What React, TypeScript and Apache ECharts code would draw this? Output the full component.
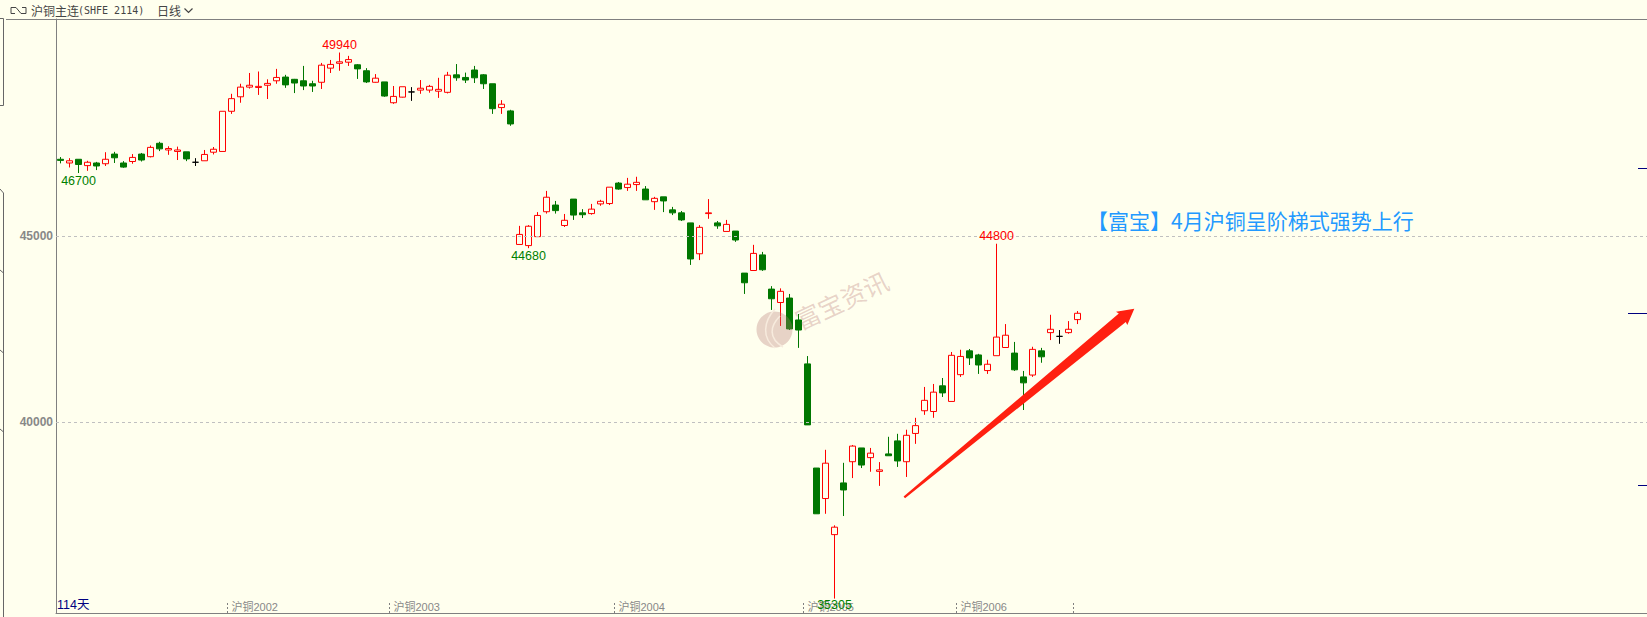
import React, { useEffect, useRef } from "react";
import * as echarts from "echarts";

const contractLabels: [number, string][] = [
  [19, "沪铜2002"],
  [37, "沪铜2003"],
  [62, "沪铜2004"],
  [83, "沪铜2005"],
  [100, "沪铜2006"],
];
const lastTickIndex = 113;
const priceTicks = [40000, 45000];
const highLabels: [number, number][] = [
  [31, 49940],
  [104, 44800],
];
const lowLabels: [number, number][] = [
  [2, 46700],
  [52, 44680],
  [86, 35305],
];
const title = "【富宝】4月沪铜呈阶梯式强势上行";
const dayCount = "114天";
const contractName = "沪铜主连";
const contractCode = "(SHFE 2114)";
const period = "日线";
const watermark = "富宝资讯";

// [open, close, low, high]
const candles: number[][] = [
  [47070, 47040, 46960, 47130], [46970, 47030, 46850, 47100], [47070, 46930, 46700, 47070], [46900, 46990, 46760, 47030],
  [46970, 46890, 46780, 47000], [46950, 47070, 46890, 47260], [47210, 47110, 46970, 47270], [46970, 46860, 46840, 47020],
  [47010, 47120, 46950, 47210], [47210, 47050, 47010, 47240], [47140, 47390, 47120, 47440], [47500, 47350, 47290, 47540],
  [47320, 47360, 47190, 47420], [47280, 47320, 47050, 47410], [47270, 47080, 47020, 47270], [46990, 46990, 46890, 47100],
  [47030, 47200, 47030, 47320], [47260, 47340, 47200, 47400], [47280, 48360, 47280, 48360], [48360, 48700, 48290, 48830],
  [48750, 49010, 48590, 49100], [49010, 49060, 48970, 49390], [49000, 49030, 48800, 49430], [49060, 49110, 48690, 49220],
  [49180, 49270, 49100, 49500], [49280, 49070, 48990, 49340], [49220, 49120, 48850, 49230], [49180, 49040, 48930, 49580],
  [49100, 49040, 48880, 49180], [49140, 49600, 48960, 49660], [49520, 49620, 49390, 49740], [49650, 49690, 49450, 49940],
  [49680, 49750, 49580, 49850], [49610, 49500, 49230, 49630], [49450, 49150, 49120, 49520], [49140, 49250, 49130, 49360],
  [49150, 48770, 48750, 49150], [48590, 48760, 48560, 49040], [48740, 49020, 48730, 49020], [48880, 48880, 48640, 49010],
  [48930, 48980, 48830, 49200], [48930, 49030, 48860, 49070], [48900, 48950, 48720, 49260], [48870, 49330, 48840, 49420],
  [49340, 49260, 49180, 49630], [49270, 49200, 49120, 49400], [49470, 49260, 49120, 49580], [49340, 49100, 48960, 49360],
  [49100, 48430, 48290, 49100], [48460, 48550, 48290, 48660], [48370, 48020, 47970, 48400], [44780, 45050, 44780, 45280],
  [44750, 45270, 44680, 45300], [44990, 45560, 44990, 45650], [45660, 46050, 45610, 46220], [45840, 45690, 45610, 45950],
  [45290, 45430, 45250, 45600], [46000, 45570, 45440, 46000], [45630, 45580, 45490, 45730], [45610, 45730, 45580, 45870],
  [45870, 45940, 45820, 45980], [45880, 46320, 45840, 46320], [46430, 46270, 46250, 46460], [46310, 46400, 46220, 46570],
  [46390, 46450, 46220, 46600], [46270, 45980, 45980, 46350], [45930, 46020, 45710, 46060], [46060, 45950, 45650, 46060],
  [45710, 45630, 45570, 45790], [45630, 45440, 45410, 45680], [45360, 44390, 44230, 45360], [44530, 45240, 44360, 45300],
  [45610, 45630, 45470, 46000], [45360, 45280, 45200, 45410], [45130, 45320, 45130, 45440], [45140, 44900, 44850, 45140],
  [44010, 43750, 43450, 44010], [44080, 44540, 44080, 44770], [44500, 44100, 44070, 44580], [43580, 43320, 43020, 43660],
  [43220, 43520, 42590, 43600], [43340, 42510, 42480, 43450], [42750, 42480, 42000, 42910], [41570, 39930, 39930, 41780],
  [38770, 37540, 37540, 38770], [37950, 38900, 37540, 39260], [36980, 37180, 35260, 37230], [38370, 38180, 37480, 38910],
  [38940, 39360, 38500, 39390], [39310, 38850, 38770, 39310], [39050, 39170, 38670, 39310], [38680, 38720, 38290, 38930],
  [39150, 39100, 39100, 39610], [39500, 38960, 38800, 39690], [38940, 39650, 38530, 39800], [39700, 39910, 39420, 40120],
  [40310, 40590, 40200, 40950], [40290, 40810, 40120, 41030], [40980, 40790, 40680, 41190], [40560, 41800, 40560, 41890],
  [41280, 41770, 41220, 41950], [41920, 41730, 41540, 41970], [41810, 41540, 41300, 41840], [41390, 41560, 41300, 41680],
  [41790, 42290, 41790, 44800], [42010, 42340, 42010, 42640], [41860, 41410, 41380, 42160], [41220, 41060, 40330, 41380],
  [41270, 41960, 41220, 42030], [41920, 41760, 41600, 42000], [42410, 42500, 42210, 42890], [42310, 42310, 42110, 42480],
  [42410, 42500, 42380, 42720], [42760, 42930, 42640, 42990],
];

const BG = "#FFFFEE";
const RED = "#FF0000";
const GREEN = "#007700";
const GRAY = "#808080";
const SANS = '"Liberation Sans", "Noto Sans CJK SC", sans-serif';
const CJK = '"Noto Sans CJK SC", sans-serif';
const SLOTS = 177;

const labelNames = new Map(contractLabels);
const categories = Array.from({ length: SLOTS }, (_, i) => labelNames.get(i) ?? "");
const tickSet = new Set<number>([...contractLabels.map((c) => c[0]), lastTickIndex]);

const pointLabel = (i: number, v: number, position: "top" | "bottom", color: string) => ({
  coord: [i, v],
  value: v,
  symbol: "circle",
  symbolSize: 0,
  itemStyle: { color: "transparent" },
  label: {
    show: true,
    position,
    distance: position === "bottom" ? 2 : 1,
    formatter: String(v),
    color,
    fontFamily: SANS,
    fontSize: 12.5,
  },
});

const line = (points: number[][], color = "#666666", lineWidth = 1) => ({
  type: "polyline",
  shape: { points },
  style: { stroke: color, lineWidth, fill: "none" },
  silent: true,
});

const text = (x: number, y: number, t: string, font: string, fontSize: number, fill: string, extra = {}) => ({
  type: "text",
  x,
  y,
  silent: true,
  style: { text: t, fontFamily: font, fontSize, fill, textVerticalAlign: "middle", ...extra },
});

const markColor = "rgba(183,120,118,0.33)";
const curve = (a: number[], c1: number[], c2: number[], b: number[]) => ({
  type: "bezierCurve",
  z: 101,
  silent: true,
  shape: { x1: a[0], y1: a[1], cpx1: c1[0], cpy1: c1[1], cpx2: c2[0], cpy2: c2[1], x2: b[0], y2: b[1] },
  style: { stroke: "#F7EBDD", lineWidth: 1.5, fill: "none" },
});

export default function App() {
  const ref = useRef<HTMLDivElement>(null);
  useEffect(() => {
    const chart = echarts.init(ref.current!, undefined, { renderer: "svg" });
    chart.setOption({
      animation: false,
      backgroundColor: BG,
      grid: {
        left: 56,
        top: 19,
        width: 9 * SLOTS,
        height: 594,
        containLabel: false,
        outerBoundsMode: "none",
      },
      xAxis: {
        type: "category",
        data: categories,
        boundaryGap: true,
        axisLine: { show: true, lineStyle: { color: GRAY, width: 1 } },
        axisTick: {
          show: true,
          inside: true,
          length: 11,
          alignWithLabel: false,
          interval: (i: number) => tickSet.has(i),
          lineStyle: { color: GRAY, type: [2, 2] },
        },
        axisLabel: {
          show: true,
          inside: true,
          interval: 0,
          align: "left",
          margin: 1,
          color: "#888888",
          fontFamily: SANS,
          fontSize: 11,
        },
        splitLine: { show: false },
      },
      yAxis: {
        type: "value",
        min: 34873,
        max: 50841,
        scale: true,
        axisLine: { show: true, onZero: false, lineStyle: { color: GRAY, width: 1 } },
        axisTick: { show: false, customValues: priceTicks },
        axisLabel: {
          show: true,
          customValues: priceTicks,
          formatter: (v: number) => String(v),
          margin: 3,
          color: "#888888",
          fontFamily: SANS,
          fontWeight: "bold",
          fontSize: 12,
        },
        splitLine: { show: false },
      },
      series: [
        {
          type: "candlestick",
          data: candles,
          barWidth: 6,
          clip: true,
          itemStyle: {
            color: BG,
            color0: GREEN,
            borderColor: RED,
            borderColor0: GREEN,
            borderColorDoji: "#000000",
            borderWidth: 1,
          },
          markLine: {
            silent: true,
            symbol: "none",
            label: { show: false },
            lineStyle: { color: "#C0C0C0", type: [3, 3], width: 1 },
            data: priceTicks.map((v) => ({ yAxis: v })),
          },
          markPoint: {
            silent: true,
            data: [
              ...highLabels.map(([i, v]) => pointLabel(i, v, "top", RED)),
              ...lowLabels.map(([i, v]) => pointLabel(i, v, "bottom", "#008000")),
            ],
          },
        },
      ],
      graphic: {
        elements: [
          // top bar
          line([[6, 19.5], [1647, 19.5]], GRAY),
          line([[11, 7.5], [16, 7.5], [21, 13.5], [26, 13.5], [26, 7.5], [22, 7.5]], "#444444"),
          line([[15, 13.5], [11, 13.5], [11, 7.5]], "#444444"),
          text(31, 10, contractName, CJK, 12, "#444444"),
          text(78, 10, contractCode, '"DejaVu Sans Mono", monospace', 10, "#444444"),
          text(157, 10, period, CJK, 12, "#444444"),
          line([[184.5, 8.5], [188.5, 12.5], [192.5, 8.5]], "#444444", 1.2),
          // left edge panel
          line([[0, 18.5], [3.5, 18.5], [3.5, 105.5], [0, 105.5]]),
          line([[0, 189], [3.5, 193], [3.5, 617]]),
          line([[0, 270], [3.5, 273]]),
          line([[0, 350], [3.5, 353]]),
          line([[0, 429], [3.5, 432]]),
          // right edge marks
          line([[1638, 168.5], [1647, 168.5]], "#000080"),
          line([[1628, 313.5], [1647, 313.5]], "#000080"),
          line([[1638, 485.5], [1647, 485.5]], "#000080"),
          // day count
          text(57, 604.5, dayCount, SANS, 12.5, "#000080"),
          // headline
          text(1087, 220, title, CJK, 21, "#2299FF"),
          // arrow
          {
            type: "polygon",
            silent: true,
            z: 50,
            shape: {
              points: [
                [903.6, 496.6],
                [1118.8, 313.55],
                [1116, 311.7],
                [1134.3, 308.7],
                [1127.3, 325],
                [1125.8, 322.05],
                [905, 498.2],
              ],
            },
            style: { fill: "#FF2010" },
          },
          // watermark
          { type: "circle", z: 100, silent: true, shape: { cx: 774.5, cy: 329.5, r: 18 }, style: { fill: markColor } },
          curve([775, 309], [763, 322], [762, 338], [775, 348]),
          curve([780, 316], [770, 326], [768, 338], [783, 347]),
          {
            type: "text",
            z: 100,
            silent: true,
            x: 796,
            y: 320.5,
            rotation: (25 * Math.PI) / 180,
            style: { text: watermark, fontFamily: CJK, fontSize: 25, fill: markColor, textVerticalAlign: "middle" },
          },
        ],
      },
    });
    return () => chart.dispose();
  }, []);
  return <div ref={ref} style={{ position: "absolute", left: 0, top: 0, width: 1647, height: 617 }} />;
}
